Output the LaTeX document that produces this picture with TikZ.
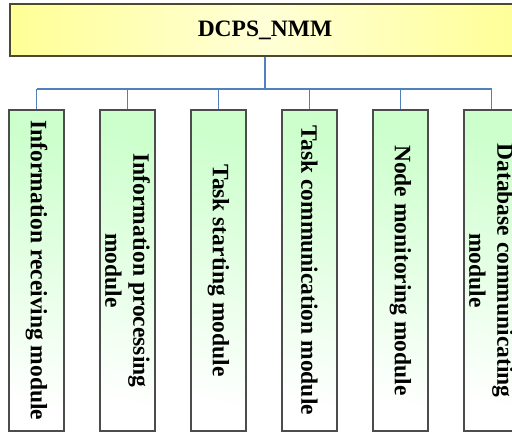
\documentclass[tikz,border=0pt]{standalone}
\usepackage{fontspec}
\setmainfont{Liberation Serif}
\usetikzlibrary{positioning}
\definecolor{modgreen}{RGB}{204,255,204}
\definecolor{rootyellow}{RGB}{255,255,150}
\definecolor{rootlight}{RGB}{255,255,215}
\definecolor{linkblue}{RGB}{79,129,189}

\begin{document}
\begin{tikzpicture}[x=1pt,y=1pt,
  root/.style={draw=black!60!olive,line width=1.2pt,minimum width=510pt,minimum height=52pt,
    left color=rootyellow,right color=rootyellow,middle color=rootlight,
    font=\bfseries\fontsize{23.5}{28}\selectfont},
  modbox/.style={draw=black!70,line width=1.2pt,minimum width=55pt,minimum height=321pt,inner sep=0pt,
    top color=modgreen,bottom color=white,shading angle=-15},
  modtext/.style={rotate=-90,align=center,font=\bfseries\fontsize{23.5}{28}\selectfont},
  link/.style={draw=linkblue,line width=1.2pt}]
  \useasboundingbox (0,0) rectangle (512,-433);
  \clip (0,0) rectangle (512,-433);

  \node[root] (top) at (265,-30) {DCPS\_NMM};
  \coordinate (bar) at (265,-89);

  % the six modules
  \foreach \i/\txt in {1/{Information receiving module},
                       2/{Information processing\\module},
                       3/{Task starting module},
                       4/{Task communication module},
                       5/{Node monitoring module},
                       6/{Database communicating\\module}} {
    \node[modbox] (m\i) at ({36.5+91*(\i-1)},-270.5) {};
    \node[modtext] (t\i) at (m\i.center) {\txt};
  }

  \draw[link] (top.south) -- (bar);
  \draw[link] (bar -| m1.north) -- (bar -| m6.north);
  \foreach \i in {1,...,6}
    \draw[link] (bar -| m\i.north) -- (m\i.north);
\end{tikzpicture}
\end{document}
